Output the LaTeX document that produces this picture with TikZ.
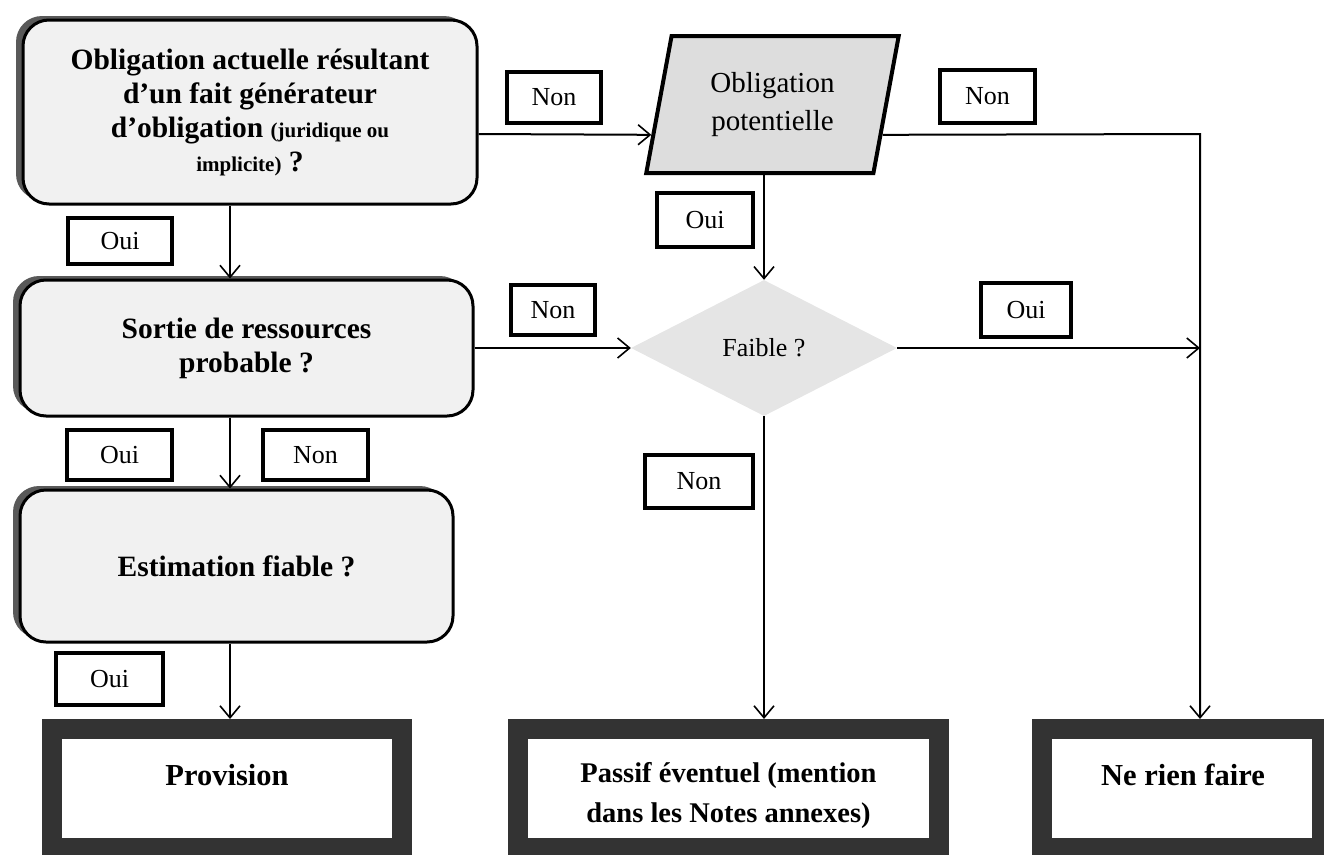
\documentclass[tikz,border=0pt]{standalone}
\usepackage{fontspec}
\setmainfont{Liberation Serif}
\usetikzlibrary{shapes.geometric,arrows.meta,calc}
\begin{document}
\begin{tikzpicture}[x=1pt,y=-1pt,
  qbox/.style={draw=black, line width=3pt, rounded corners=26pt, fill=gray!11, align=center,
    font=\bfseries\fontsize{29.5}{34}\selectfont,
    preaction={fill=black!65, transform canvas={xshift=-7pt,yshift=4pt}}},
  lab/.style={draw=black, line width=4pt, fill=white, inner sep=0pt,
    font=\fontsize{26}{28}\selectfont},
  parabox/.style={trapezium, trapezium left angle=77, trapezium right angle=103,
    trapezium stretches=true, draw=black, line width=4pt, fill=gray!27, align=center,
    font=\fontsize{29}{38}\selectfont},
  diabox/.style={diamond, aspect=2, fill=gray!20, inner sep=0pt,
    font=\fontsize{26}{28}\selectfont},
  endbox/.style={draw=black!80, line width=20pt, fill=white, inner sep=0pt},
  endtxt/.style={font=\bfseries\fontsize{30.5}{40}\selectfont, align=center},
  arr/.style={line width=2pt, -{Straight Barb[length=12pt,width=20pt,line width=1.6pt]}},
]
\useasboundingbox (0,0) rectangle (1324,854);
\clip (0,0) rectangle (1324,854);

% question boxes
\node[qbox, minimum width=454pt, minimum height=184pt] (q1) at (250,112)
  {Obligation actuelle résultant\\d’un fait générateur\\d’obligation {\fontsize{21}{34}\selectfont (juridique ou}\\{\fontsize{21}{34}\selectfont implicite)} ?};
\node[qbox, minimum width=453pt, minimum height=136pt] (q2) at (246.5,348)
  {Sortie de ressources\\probable ?};
\node[qbox, minimum width=433pt, minimum height=152pt] (q3) at (236.5,566)
  {Estimation fiable ?};

% potential obligation and decision
\node[parabox, minimum width=253pt, minimum height=137pt] (pot) at (772.5,104.5)
  {Obligation\\potentielle};
\node[diabox, minimum width=266pt, minimum height=136pt] (fai) at (764,348) {Faible ?};

% end boxes
\node[endbox, minimum width=350pt, minimum height=119pt] (prov) at (227,788.5) {};
\node[endbox, minimum width=421pt, minimum height=119pt] (pas) at (728.5,788.5) {};
\node[endbox, minimum width=280pt, minimum height=119pt] (nrf) at (1182,788.5) {};
\node[endtxt] (provT) at (227,775) {Provision};
\node[endtxt, font=\bfseries\fontsize{28.5}{40}\selectfont] (pasT) at (728.5,795)
  {Passif éventuel (mention\\dans les Notes annexes)};
\node[endtxt] (nrfT) at (1183,775) {Ne rien faire};

% labels
\node[lab, minimum width=94pt, minimum height=51pt] (l1) at (554,97.5) {Non};
\node[lab, minimum width=95pt, minimum height=53pt] (l2) at (987.5,96.5) {Non};
\node[lab, minimum width=96pt, minimum height=54pt] (l3) at (705,220) {Oui};
\node[lab, minimum width=104pt, minimum height=46pt] (l4) at (120,241) {Oui};
\node[lab, minimum width=84pt, minimum height=50pt] (l5) at (553,310) {Non};
\node[lab, minimum width=90pt, minimum height=54pt] (l6) at (1026,310) {Oui};
\node[lab, minimum width=105pt, minimum height=50pt] (l7) at (119.5,455) {Oui};
\node[lab, minimum width=105pt, minimum height=50pt] (l8) at (315.5,455) {Non};
\node[lab, minimum width=108pt, minimum height=53pt] (l9) at (699,481.5) {Non};
\node[lab, minimum width=107pt, minimum height=52pt] (l10) at (109.5,679) {Oui};

% connectors
\coordinate (xa) at (230,0);
\coordinate (xr) at (1200,134);
\draw[arr] (q1.south -| xa) -- (q2.north -| xa);
\draw[arr] (q2.south -| xa) -- (q3.north -| xa);
\draw[arr] (q3.south -| xa) -- (prov.north -| xa);
\draw[arr] (q1.east |- xr) -- ($(pot.bottom left corner)!0.285!(pot.top left corner)$);
\draw[arr] ($(pot.bottom right corner)!0.285!(pot.top right corner)$) -- (xr) -- (xr |- nrf.north);
\draw[arr] (pot.south -| fai.north) -- (fai.north);
\draw[arr] (q2.east |- fai) -- (fai.west);
\draw[arr] (fai.east) -- (fai.east -| xr);
\draw[arr] (fai.south) -- (fai.south |- pas.north);
\end{tikzpicture}
\end{document}
